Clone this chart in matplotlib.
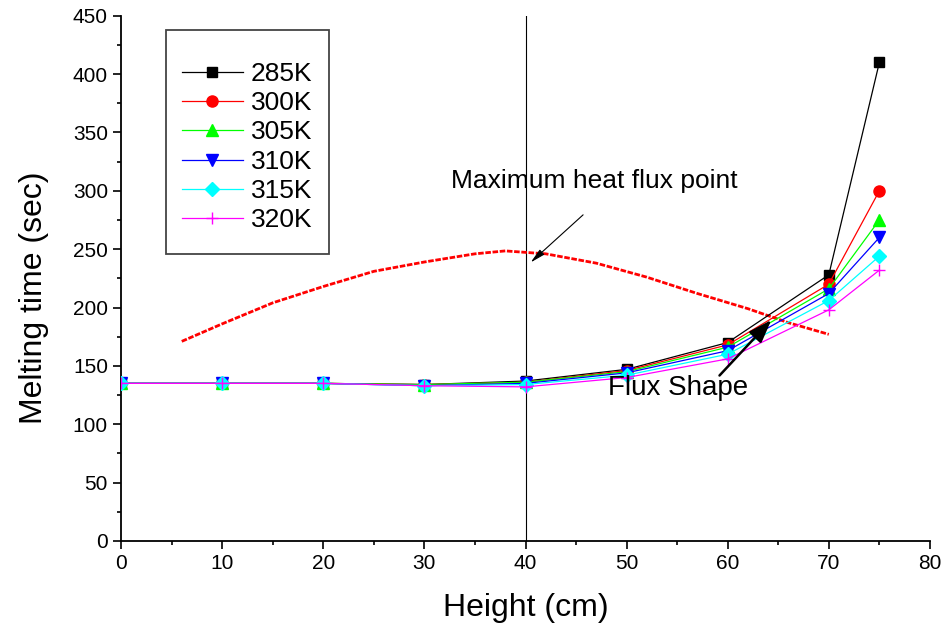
import matplotlib.pyplot as plt
from matplotlib.patches import Rectangle
from matplotlib.ticker import MultipleLocator

plt.rcParams['font.family'] = ['Liberation Sans', 'DejaVu Sans']

# Heights (cm) and melting times (sec) for each inlet temperature
height = [0, 10, 20, 30, 40, 50, 60, 70, 75]
t285 = [135, 135, 135, 134, 137, 147, 170, 228, 410]
t300 = [135, 135, 135, 134, 136, 146, 168, 220, 300]
t305 = [135, 135, 135, 134, 136, 145, 166, 216, 275]
t310 = [135, 135, 135, 133, 135, 144, 163, 212, 260]
t315 = [135, 135, 135, 133, 134, 142, 160, 206, 244]
t320 = [135, 135, 135, 133, 132, 140, 156, 198, 232]

# Flux shape curve
flux_x = [6, 10, 15, 20, 25, 30, 35, 38, 42, 47, 52, 57, 62, 66, 70]
flux_y = [171, 186, 204, 218, 231, 239, 246, 248.5, 246, 238, 226, 212, 199, 187, 177]

series = [
    ('285K', t285, 'black', 's', 7),
    ('300K', t300, 'red', 'o', 8),
    ('305K', t305, '#00ff00', '^', 8),
    ('310K', t310, 'blue', 'v', 8),
    ('315K', t315, 'cyan', 'D', 7),
    ('320K', t320, 'magenta', '+', 9),
]

fig = plt.figure(figsize=(9.46, 6.29), dpi=100)
ax = fig.add_axes([0.128, 0.140, 0.855, 0.835])

ax.axvline(40, color='black', lw=0.8, zorder=1)
ax.plot(flux_x, flux_y, color='red', ls=(0, (2, 0.6)), lw=2, zorder=2)

for label, vals, color, marker, ms in series:
    ax.plot(height, vals, color=color, marker=marker, markersize=ms, lw=0.9,
            label=label, zorder=3)

# annotations
ax.annotate('', xy=(40.3, 237), xytext=(45.9, 281),
            arrowprops=dict(arrowstyle='-|>,head_length=0.9,head_width=0.2',
                            color='black', lw=0.8), zorder=4)
ax.text(32.6, 308, 'Maximum heat flux point', fontsize=19, va='center')
ax.annotate('', xy=(64.5, 191), xytext=(59, 140),
            arrowprops=dict(arrowstyle='-|>,head_length=1.4,head_width=0.5',
                            color='black', lw=1.8), zorder=4)
ax.text(48.2, 131, 'Flux Shape', fontsize=20, va='center')

ax.set_xlim(0, 80)
ax.set_ylim(0, 450)
ax.xaxis.set_major_locator(MultipleLocator(10))
ax.xaxis.set_minor_locator(MultipleLocator(5))
ax.yaxis.set_major_locator(MultipleLocator(50))
ax.yaxis.set_minor_locator(MultipleLocator(25))
ax.spines['top'].set_visible(False)
ax.spines['right'].set_visible(False)
ax.spines['left'].set_linewidth(1.3)
ax.spines['bottom'].set_linewidth(1.3)
ax.tick_params(which='major', direction='out', length=6, width=1.2, labelsize=15)
ax.tick_params(which='minor', direction='out', length=3, width=1.2)

ax.set_xlabel('Height (cm)', fontsize=23, labelpad=14)
ax.set_ylabel('Melting time (sec)', fontsize=23, labelpad=17, y=0.463)

# legend box drawn separately so the padding matches
ax.add_patch(Rectangle((0.0556, 0.547), 0.2016, 0.426, transform=ax.transAxes,
                       fill=False, edgecolor='#444444', lw=1.3, zorder=5))
ax.legend(loc='upper left', bbox_to_anchor=(0.0754, 0.912), fontsize=19,
          frameon=False, handlelength=2.3, labelspacing=0.2, borderpad=0,
          handletextpad=0.3, borderaxespad=0)

fig.savefig('out.png', dpi=100)
